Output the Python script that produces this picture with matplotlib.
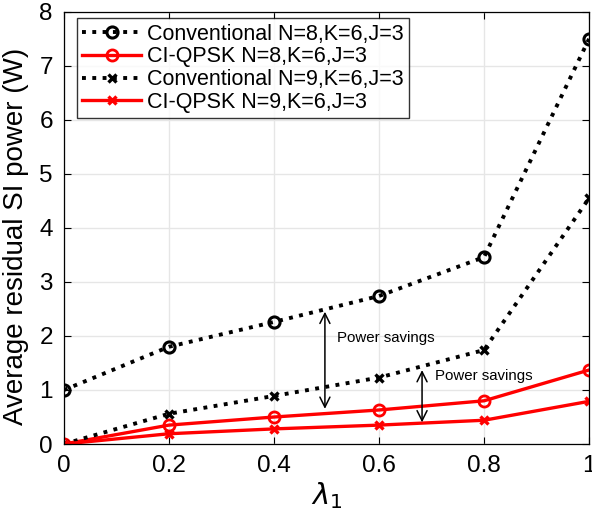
import matplotlib.pyplot as plt

# lambda_1 values
lam = [0, 0.2, 0.4, 0.6, 0.8, 1.0]

conv_n8 = [1.0, 1.8, 2.26, 2.74, 3.46, 7.5]
ci_n8 = [0.0, 0.35, 0.5, 0.63, 0.8, 1.37]
conv_n9 = [0.0, 0.56, 0.89, 1.23, 1.74, 4.55]
ci_n9 = [0.0, 0.19, 0.28, 0.35, 0.44, 0.79]

labels = ['Conventional N=8,K=6,J=3', 'CI-QPSK N=8,K=6,J=3',
          'Conventional N=9,K=6,J=3', 'CI-QPSK N=9,K=6,J=3']

plt.rcParams['font.family'] = ['Liberation Sans', 'DejaVu Sans']

fig = plt.figure(figsize=(5.92, 5.16), dpi=100)
ax = fig.add_axes([0.108, 0.1395, 0.887, 0.8375])

ax.plot(lam, conv_n8, ':', color='black', lw=2.8, marker='o', ms=8, mfc='none', mew=2.2, label=labels[0])
ax.plot(lam, ci_n8, '-', color='red', lw=2.4, marker='o', ms=8, mfc='none', mew=2, label=labels[1])
ax.plot(lam, conv_n9, ':', color='black', lw=2.8, marker='x', ms=6, mew=2.4, label=labels[2])
ax.plot(lam, ci_n9, '-', color='red', lw=2.4, marker='x', ms=6, mew=2.4, label=labels[3])

# power savings arrows
ax.annotate('', xy=(0.497, 2.5), xytext=(0.497, 0.6),
            arrowprops=dict(arrowstyle='<->', color='black', lw=1.1, mutation_scale=18))
ax.text(0.52, 1.96, 'Power savings', fontsize=10.8, va='center')
ax.annotate('', xy=(0.682, 1.42), xytext=(0.682, 0.35),
            arrowprops=dict(arrowstyle='<->', color='black', lw=1.1, mutation_scale=18))
ax.text(0.707, 1.26, 'Power savings', fontsize=10.8, va='center')

ax.set_xlim(0, 1)
ax.set_ylim(0, 8)
ax.set_xticks(lam)
ax.set_xticklabels(['0', '0.2', '0.4', '0.6', '0.8', '1'])
ax.set_yticks(range(9))
ax.tick_params(labelsize=17.5, direction='in', length=5, top=True, right=True, pad=8)
ax.grid(True, color='#e6e6e6', lw=1)
ax.set_axisbelow(True)
for s in ax.spines.values():
    s.set_linewidth(0.9)
ax.set_xlabel(r'$\lambda_1$', fontsize=21, labelpad=2)
ax.set_ylabel('Average residual SI power (W)', fontsize=20)
ax.yaxis.set_label_coords(-0.066, 0.48)

ax.legend(loc='upper left', bbox_to_anchor=(0.025, 0.985), fontsize=15.5, frameon=True,
          fancybox=False, edgecolor='black', handlelength=2.7, borderpad=0.25,
          labelspacing=0.08, handletextpad=0.3, borderaxespad=0)

fig.savefig('out.png', dpi=100)
